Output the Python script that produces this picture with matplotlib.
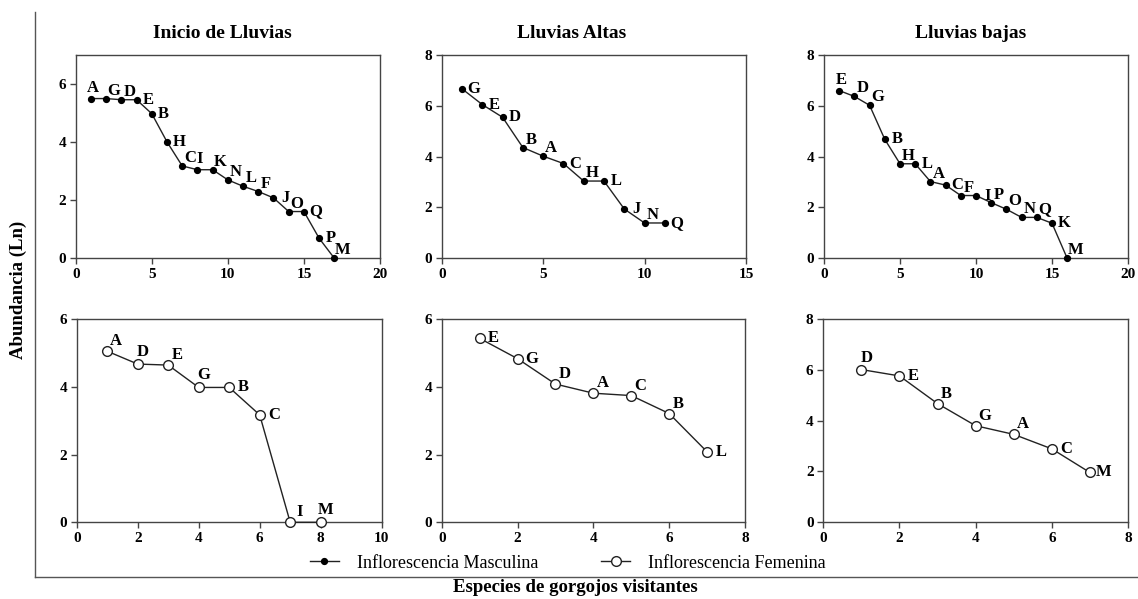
import matplotlib
matplotlib.use("Agg")
import matplotlib.pyplot as plt
from matplotlib.lines import Line2D

plt.rcParams["font.family"] = ["Liberation Serif", "DejaVu Serif"]

# Masculine inflorescence (top row)
inicio_m_lab = ["A", "G", "D", "E", "B", "H", "C", "I", "K", "N", "L", "F", "J", "O", "Q", "P", "M"]
inicio_m_val = [5.5, 5.5, 5.46, 5.46, 4.98, 4.01, 3.18, 3.05, 3.05, 2.7, 2.48, 2.3, 2.08, 1.61, 1.61, 0.69, 0.0]
altas_m_lab = ["G", "E", "D", "B", "A", "C", "H", "L", "J", "N", "Q"]
altas_m_val = [6.67, 6.05, 5.55, 4.36, 4.02, 3.73, 3.04, 3.04, 1.94, 1.39, 1.39]
bajas_m_lab = ["E", "D", "G", "B", "H", "L", "A", "C", "F", "I", "P", "O", "N", "Q", "K", "M"]
bajas_m_val = [6.6, 6.37, 6.02, 4.68, 3.72, 3.72, 3.02, 2.88, 2.47, 2.47, 2.19, 1.93, 1.61, 1.61, 1.38, 0.0]

# Feminine inflorescence (bottom row)
inicio_f_lab = ["A", "D", "E", "G", "B", "C", "I", "M"]
inicio_f_val = [5.05, 4.67, 4.64, 3.98, 3.98, 3.17, 0.0, 0.0]
altas_f_lab = ["E", "G", "D", "A", "C", "B", "L"]
altas_f_val = [5.43, 4.83, 4.08, 3.81, 3.74, 3.21, 2.08]
bajas_f_lab = ["D", "E", "B", "G", "A", "C", "M"]
bajas_f_val = [6.01, 5.76, 4.67, 3.8, 3.46, 2.89, 1.96]

titles = ["Inicio de Lluvias", "Lluvias Altas", "Lluvias bajas"]

# label placement codes: r = right, u = up-right, t = above
place = [
    "tuurrrutuuuururru",
    "rrruururrur",
    "tuururururuuuuru",
    "ututrrut",
    "rruuuur",
    "truuurr",
]

W, H = 1138, 599
fig = plt.figure(figsize=(W / 100, H / 100), dpi=100)

def box(x0, x1, y0, y1):
    return [x0 / W, 1 - y1 / H, (x1 - x0) / W, (y1 - y0) / H]

axes_px = [
    (75.7, 380, 55, 258.3), (441.7, 746, 55, 258.3), (824, 1128, 55, 258.3),
    (76.7, 381.7, 319, 522.3), (441.7, 745, 319, 522.3), (823.3, 1128, 319, 522.3),
]
title_x = [0.481, 0.428, 0.483]
series = [
    (inicio_m_lab, inicio_m_val), (altas_m_lab, altas_m_val), (bajas_m_lab, bajas_m_val),
    (inicio_f_lab, inicio_f_val), (altas_f_lab, altas_f_val), (bajas_f_lab, bajas_f_val),
]
xlims = [(0, 20, 5), (0, 15, 5), (0, 20, 5), (0, 10, 2), (0, 8, 2), (0, 8, 2)]
ylims = [(0, 7, 2), (0, 8, 2), (0, 8, 2), (0, 6, 2), (0, 6, 2), (0, 8, 2)]

for i, (bx, (labs, vals)) in enumerate(zip(axes_px, series)):
    ax = fig.add_axes(box(*bx))
    xs = list(range(1, len(vals) + 1))
    if i < 3:
        ax.plot(xs, vals, "-", color="#222222", lw=1.0, marker="o", ms=4.2,
                mfc="black", mec="black", clip_on=False, zorder=3)
        offs = {"r": (12, 0), "u": (8, 8), "t": (2, 11)}
    else:
        ax.plot(xs, vals, "-", color="#222222", lw=1.0, marker="o", ms=7,
                mfc="white", mec="#222222", mew=1.0, clip_on=False, zorder=3)
        offs = {"r": (14, 0), "u": (9, 10), "t": (5, 12)}
    for j, (x, y, lab) in enumerate(zip(xs, vals, labs)):
        dx, dy = offs[place[i][j]]
        ax.annotate(lab, (x, y), xytext=(dx, dy), textcoords="offset pixels",
                    ha="center", va="center", fontsize=12, fontweight="bold",
                    annotation_clip=False, zorder=4)
    x0, x1, xs_ = xlims[i]
    y0, y1, ys_ = ylims[i]
    ax.set_xlim(x0, x1)
    ax.set_ylim(y0, y1)
    ax.set_xticks(range(x0, x1 + 1, xs_))
    ax.set_yticks(range(y0, y1 + 1, ys_))
    for s in ax.spines.values():
        s.set_color("#444444")
        s.set_linewidth(1.0)
    ax.tick_params(direction="out", length=4, width=1, color="#444444", pad=3)
    for t in ax.get_xticklabels() + ax.get_yticklabels():
        t.set_fontsize(11)
        t.set_fontweight("bold")
    if i < 3:
        ax.set_title(titles[i], fontsize=14, fontweight="bold", pad=12, x=title_x[i])

# frame lines
fig.add_artist(Line2D([35 / W, 35 / W], [1 - 12 / H, 1 - 577 / H], color="#555555", lw=1.0))
fig.add_artist(Line2D([35 / W, 1.0], [1 - 577 / H, 1 - 577 / H], color="#555555", lw=1.0))

fig.text(18 / W, 1 - 290 / H, "Abundancia (Ln)", rotation=90, ha="center", va="center",
         fontsize=13.5, fontweight="bold")
fig.text(575 / W, 1 - 588 / H, "Especies de gorgojos visitantes", ha="center", va="center",
         fontsize=13.5, fontweight="bold")

handles = [
    Line2D([], [], color="#222222", lw=1.0, marker="o", ms=4.2, mfc="black", mec="black"),
    Line2D([], [], color="#222222", lw=1.0, marker="o", ms=7, mfc="white", mec="#222222"),
]
fig.legend(handles, ["Inflorescencia Masculina", "Inflorescencia Femenina"],
           loc="center", bbox_to_anchor=(568 / W, 1 - 563 / H), ncol=2, frameon=False,
           fontsize=13, handlelength=1.6, columnspacing=3.5, handletextpad=1.0)

fig.savefig("out.png", dpi=100)
